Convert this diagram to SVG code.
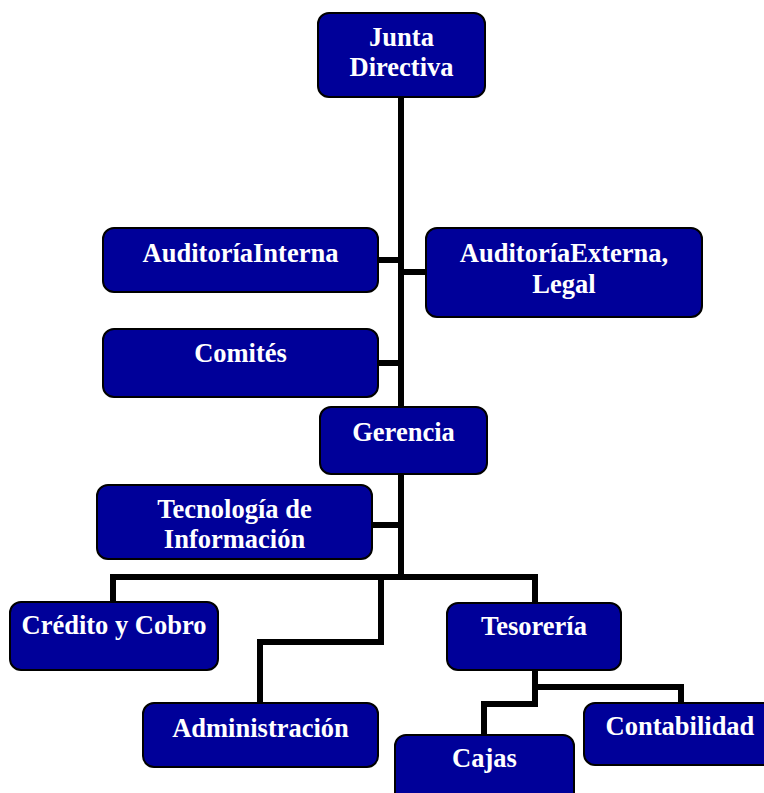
<svg xmlns="http://www.w3.org/2000/svg" width="764" height="793" viewBox="0 0 764 793">
<style>
.box{fill:#000099;stroke:#000;stroke-width:2}
.t{fill:#fff;font-family:"Liberation Serif","Times New Roman",serif;font-weight:bold;font-size:26.5px;text-anchor:middle}
.c{fill:none;stroke:#000;stroke-width:6;stroke-linejoin:miter;stroke-linecap:square}
</style>
<rect width="764" height="793" fill="#fff"/>
<g id="connectors">
<path class="c" d="M401 97 V577"/>
<path class="c" d="M378 260 H401"/>
<path class="c" d="M401 272 H426"/>
<path class="c" d="M378 363 H401"/>
<path class="c" d="M372 525 H401"/>
<path class="c" d="M113 602 V577 H535 V603"/>
<path class="c" d="M381 577 V642 H260 V703"/>
<path class="c" d="M535 670 V704 H484 V735"/>
<path class="c" d="M535 687 H681 V703"/>
</g>
<g id="junta"><rect class="box" x="318" y="13" width="167" height="84" rx="11"/><text class="t" x="401.5" y="46">Junta</text><text class="t" x="401.5" y="76">Directiva</text></g>
<g id="auditoria-interna"><rect class="box" x="103" y="228" width="275" height="64" rx="11"/><text class="t" x="240.5" y="262">AuditoríaInterna</text></g>
<g id="auditoria-externa"><rect class="box" x="426" y="228" width="276" height="89" rx="11"/><text class="t" x="564" y="262">AuditoríaExterna,</text><text class="t" x="564" y="293">Legal</text></g>
<g id="comites"><rect class="box" x="103" y="329" width="275" height="68" rx="11"/><text class="t" x="240.5" y="362">Comités</text></g>
<g id="gerencia"><rect class="box" x="320" y="407" width="167" height="67" rx="11"/><text class="t" x="403.5" y="441">Gerencia</text></g>
<g id="tecnologia"><rect class="box" x="97" y="485" width="275" height="74" rx="11"/><text class="t" x="234.5" y="518">Tecnología de</text><text class="t" x="234.5" y="548">Información</text></g>
<g id="credito"><rect class="box" x="10" y="602" width="208" height="68" rx="11"/><text class="t" x="114" y="634">Crédito y Cobro</text></g>
<g id="administracion"><rect class="box" x="143" y="703" width="235" height="64" rx="11"/><text class="t" x="260.5" y="737">Administración</text></g>
<g id="tesoreria"><rect class="box" x="447" y="603" width="174" height="67" rx="11"/><text class="t" x="534" y="635">Tesorería</text></g>
<g id="contabilidad"><rect class="box" x="584" y="703" width="192" height="62" rx="11"/><text class="t" x="680" y="735">Contabilidad</text></g>
<g id="cajas"><rect class="box" x="395" y="735" width="179" height="70" rx="11"/><text class="t" x="484.5" y="767">Cajas</text></g>
</svg>
